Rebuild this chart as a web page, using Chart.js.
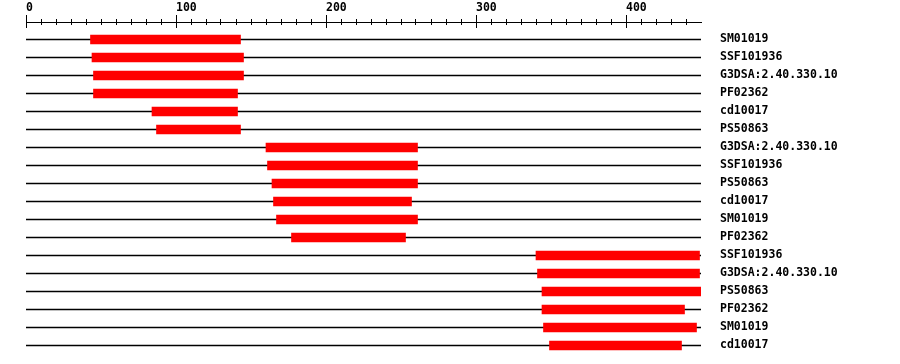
<!DOCTYPE html>
<html>
<head>
<meta charset="utf-8">
<script src="https://cdn.jsdelivr.net/npm/chart.js@4"></script>
<style>
  html, body { margin: 0; padding: 0; background: #fff; }
  canvas { display: block; }
</style>
</head>
<body>
<canvas id="c" width="900" height="364"></canvas>
<script>
// ---- data ----
const categories = [
  "SM01019", "SSF101936", "G3DSA:2.40.330.10", "PF02362", "cd10017", "PS50863",
  "G3DSA:2.40.330.10", "SSF101936", "PS50863", "cd10017", "SM01019", "PF02362",
  "SSF101936", "G3DSA:2.40.330.10", "PS50863", "PF02362", "SM01019", "cd10017"
];
const domainStart = [43, 44, 45, 45, 84, 87, 160, 161, 164, 165, 167, 177, 340, 341, 344, 344, 345, 349];
const domainEnd   = [143, 145, 145, 141, 141, 143, 261, 261, 261, 257, 261, 253, 449, 449, 450, 439, 447, 437];
const sequenceLength = 450;
const tickStep = 10;
const labelStep = 100;

const domainData = domainStart.map((s, i) => [s, domainEnd[i]]);
const lineData = categories.map(() => [0, sequenceLength]);

const FONT = { family: "'DejaVu Sans Mono', monospace", size: 11.5, weight: 'bold', lineHeight: 1.2 };

const axisPlugin = {
  id: 'rulerAxis',
  afterDraw(chart) {
    const sx = chart.scales.x;
    const ctx = chart.ctx;
    ctx.save();
    ctx.fillStyle = '#000';
    const axisY = 22;
    const x0 = Math.floor(sx.getPixelForValue(0));
    const x1 = Math.floor(sx.getPixelForValue(sequenceLength)) + 1;
    ctx.fillRect(x0, axisY, x1 - x0, 1);
    sx.ticks.forEach(t => {
      if (t.value >= sequenceLength) return;
      const px = Math.floor(sx.getPixelForValue(t.value));
      if (t.value % labelStep === 0) {
        ctx.fillRect(px, 15, 1, 13);
      } else {
        ctx.fillRect(px, 19, 1, 6);
      }
    });
    ctx.restore();
  }
};

new Chart(document.getElementById('c'), {
  type: 'bar',
  data: {
    labels: categories,
    datasets: [
      { label: 'domains', data: domainData, backgroundColor: '#ff0000', borderWidth: 0, barThickness: 9, grouped: false },
      { label: 'sequence', data: lineData, backgroundColor: '#000000', borderWidth: 0, barThickness: 1, grouped: false }
    ]
  },
  options: {
    indexAxis: 'y',
    responsive: false,
    animation: false,
    devicePixelRatio: 1,
    layout: { padding: { left: 26, right: 0, top: 0, bottom: 9.5 } },
    plugins: { legend: { display: false }, tooltip: { enabled: false } },
    scales: {
      x: {
        type: 'linear',
        position: 'top',
        min: 0,
        max: sequenceLength,
        grid: { display: false, drawTicks: true, tickLength: 15.4 },
        border: { display: false },
        ticks: {
          stepSize: tickStep,
          autoSkip: false,
          maxRotation: 0,
          minRotation: 0,
          align: 'start',
          padding: 0,
          color: '#000',
          font: FONT,
          callback: (v) => (v % labelStep === 0 ? String(v) : '')
        },
        afterFit: (s) => { s.height = 30.5; }
      },
      y: {
        type: 'category',
        position: 'right',
        grid: { display: false, drawTicks: true, tickLength: 19 },
        border: { display: false },
        ticks: { autoSkip: false, padding: 0, color: '#000', font: FONT },
        afterFit: (s) => { s.width = 199; }
      }
    }
  },
  plugins: [axisPlugin]
});
</script>
</body>
</html>
